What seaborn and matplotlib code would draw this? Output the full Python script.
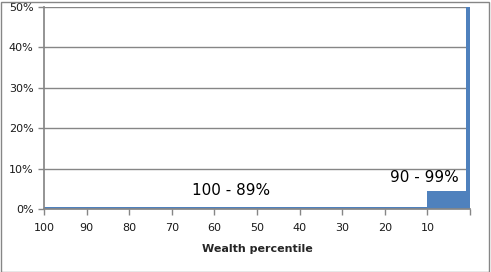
import matplotlib
matplotlib.use("Agg")
import matplotlib.pyplot as plt
import seaborn as sns
import numpy as np
from matplotlib.patches import Rectangle
from matplotlib.ticker import FuncFormatter

sns.set_theme(style="white")
plt.rcParams['font.family'] = ['DejaVu Sans']

# Data: wealth percentile groups (edges from top) and share of wealth
bin_edges = [0, 1, 10, 100]
group_mid = [0.5, 5.5, 55]
wealth_share = [50.0, 4.5, 0.4]
x_ticks = [100, 90, 80, 70, 60, 50, 40, 30, 20, 10]
y_ticks = [0, 10, 20, 30, 40, 50]
label_texts = ["100 - 89%", "90 - 99%"]

fig = plt.figure(figsize=(4.91, 2.72), dpi=100)
ax = fig.add_axes([44/491, 1-209/272, (470-44)/491, (209-7)/272])

sns.histplot(x=group_mid, weights=wealth_share, bins=bin_edges, ax=ax,
             color="#4F81BD", alpha=1, edgecolor="none", linewidth=0, stat="count")

ax.set_xlim(100, 0)
ax.set_ylim(0, 50)
ax.set_xticks(x_ticks + [0])
ax.set_xticklabels([str(t) for t in x_ticks] + [""])
ax.set_yticks(y_ticks)
ax.yaxis.set_major_formatter(FuncFormatter(lambda v, p: f"{int(v)}%"))
ax.yaxis.grid(True, color="#868686", linewidth=1)
ax.set_axisbelow(True)
for s in ["top", "right"]:
    ax.spines[s].set_visible(False)
ax.spines["left"].set_color("#868686")
ax.spines["bottom"].set_color("#868686")
ax.tick_params(axis="x", pad=6)
ax.tick_params(axis="both", which="both", direction="out", length=4, width=1,
               color="#868686", labelsize=8, labelcolor="#1a1a1a",
               bottom=True, left=True)
ax.set_ylabel("")
ax.set_xlabel("Wealth percentile", fontsize=8, fontweight="bold", labelpad=8)

ax.text(56, 4.7, label_texts[0], fontsize=11, ha="center", va="center", color="black")
ax.text(2.6, 7.8, label_texts[1], fontsize=11, ha="right", va="center", color="black")

fig.patches.append(Rectangle((1/491, 0.5/272), 488/491, 270/272, transform=fig.transFigure,
                             fill=False, edgecolor="#868686", linewidth=1))

fig.savefig("out.png", dpi=100)
